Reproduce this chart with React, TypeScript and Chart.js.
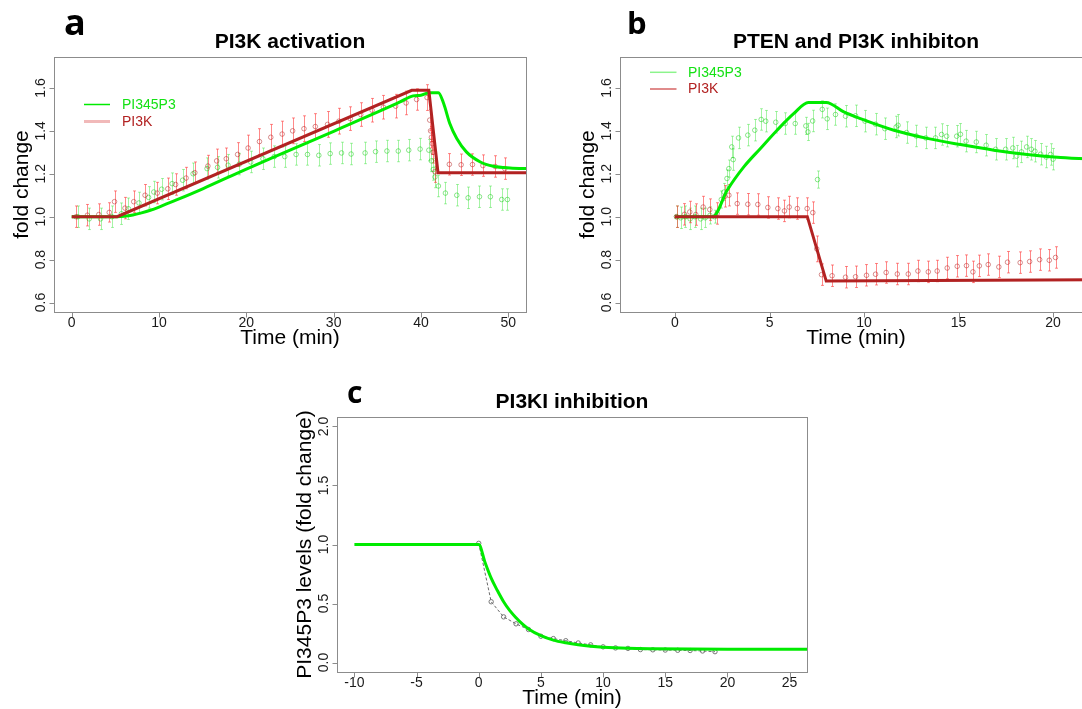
import React, { useEffect, useRef } from "react";
import { Chart, registerables } from "chart.js";

Chart.register(...registerables);

const SANS = '"Liberation Sans", Arial, Helvetica, sans-serif';
const LETTER = '"Open Sans", "DejaVu Sans", sans-serif';

const GREEN = "rgb(0,235,0)";
const DARKRED = "#b22222";

// ---------------- Panel a : PI3K activation ----------------
const A_X_TICKS = [0, 10, 20, 30, 40, 50];
const A_Y_TICKS = [0.6, 0.8, 1.0, 1.2, 1.4, 1.6];
const A_Y_LABELS = ["0.6", "0.8", "1.0", "1.2", "1.4", "1.6"];

const A_PI3K_T = [0.5, 1.8, 3.1, 4.3, 4.9, 6.1, 7.1, 8.4, 9.8, 11.0, 11.9, 13.1, 14.1, 15.6, 16.6, 17.7, 19.0, 20.2, 21.5, 22.8, 24.1, 25.3, 26.6, 27.9, 29.3, 30.6, 31.9, 33.1, 34.4, 35.7, 37.1, 38.3, 39.5, 40.7, 41.0, 41.1, 41.2, 41.3, 41.4, 41.6, 43.25, 44.6, 45.9, 47.1, 48.5, 49.6];
const A_PI3K_V = [1.0, 1.007, 1.01, 1.02, 1.07, 1.04, 1.07, 1.10, 1.11, 1.13, 1.15, 1.18, 1.205, 1.236, 1.26, 1.27, 1.29, 1.32, 1.35, 1.37, 1.385, 1.40, 1.41, 1.42, 1.43, 1.445, 1.457, 1.476, 1.496, 1.51, 1.515, 1.53, 1.546, 1.555, 1.45, 1.40, 1.37, 1.34, 1.30, 1.21, 1.244, 1.242, 1.243, 1.238, 1.234, 1.224];
const A_PI3K_E = [0.05, 0.05, 0.05, 0.045, 0.05, 0.05, 0.05, 0.05, 0.05, 0.05, 0.05, 0.05, 0.05, 0.05, 0.055, 0.05, 0.055, 0.06, 0.06, 0.06, 0.06, 0.06, 0.06, 0.06, 0.06, 0.06, 0.055, 0.055, 0.055, 0.055, 0.055, 0.055, 0.05, 0.06, 0.05, 0.05, 0.05, 0.05, 0.05, 0.05, 0.05, 0.05, 0.05, 0.05, 0.05, 0.05];

const A_PIP3_T = [0.7, 2.0, 3.3, 4.6, 5.7, 6.5, 7.7, 8.8, 9.4, 10.3, 11.5, 12.7, 13.9, 15.5, 16.7, 17.9, 19.2, 20.5, 21.9, 23.2, 24.4, 25.7, 27.0, 28.3, 29.6, 30.9, 32.0, 33.6, 34.8, 36.1, 37.4, 38.6, 39.9, 40.9, 41.2, 41.4, 41.6, 42.0, 42.8, 44.1, 45.4, 46.7, 47.95, 49.25, 49.9];
const A_PIP3_V = [1.0, 0.99, 0.99, 1.0, 1.014, 1.037, 1.064, 1.09, 1.115, 1.128, 1.154, 1.17, 1.2, 1.224, 1.23, 1.24, 1.245, 1.255, 1.27, 1.28, 1.28, 1.29, 1.29, 1.286, 1.294, 1.297, 1.292, 1.297, 1.303, 1.306, 1.306, 1.31, 1.315, 1.31, 1.26, 1.22, 1.185, 1.143, 1.11, 1.10, 1.088, 1.093, 1.093, 1.08, 1.08];
const A_PIP3_E = [0.05, 0.05, 0.05, 0.05, 0.05, 0.05, 0.05, 0.05, 0.05, 0.05, 0.05, 0.05, 0.05, 0.05, 0.05, 0.05, 0.05, 0.05, 0.05, 0.05, 0.05, 0.05, 0.05, 0.05, 0.05, 0.05, 0.05, 0.05, 0.05, 0.05, 0.05, 0.05, 0.05, 0.05, 0.05, 0.05, 0.05, 0.05, 0.05, 0.05, 0.05, 0.05, 0.05, 0.05, 0.05];

const A_PI3K_MODEL_T = [0, 5.2, 38.95, 40.9, 41.95, 52.5];
const A_PI3K_MODEL_V = [1.0, 1.0, 1.589, 1.589, 1.205, 1.205];
const A_PIP3_MODEL_T = [0, 5.2, 6, 7, 8, 9, 10, 12, 15, 20, 25, 30, 35, 37.6, 39.1, 40, 41, 42, 42.6, 43.3, 44.1, 45.2, 46.8, 48.3, 50.2, 52.5];
const A_PIP3_MODEL_V = [1.0, 1.0, 1.002, 1.008, 1.018, 1.03, 1.045, 1.078, 1.13, 1.222, 1.31, 1.398, 1.487, 1.535, 1.563, 1.566, 1.578, 1.578, 1.527, 1.434, 1.364, 1.302, 1.255, 1.235, 1.227, 1.224];

// ---------------- Panel b : PTEN and PI3K inhibiton ----------------
const B_X_TICKS = [0, 5, 10, 15, 20];
const B_Y_TICKS = [0.6, 0.8, 1.0, 1.2, 1.4, 1.6];
const B_Y_LABELS = ["0.6", "0.8", "1.0", "1.2", "1.4", "1.6"];

const B_PIP3_T = [0.08, 0.3, 0.55, 0.8, 1.05, 1.35, 1.6, 1.85, 2.1, 2.45, 2.6, 2.75, 2.85, 3.0, 3.08, 3.36, 3.85, 4.22, 4.56, 4.8, 5.33, 5.83, 6.36, 6.92, 7.03, 7.28, 7.54, 7.79, 8.05, 8.49, 9.02, 9.55, 10.05, 10.61, 11.1, 11.7, 11.8, 12.25, 12.76, 13.27, 13.78, 14.1, 14.37, 14.9, 15.1, 15.4, 15.94, 16.46, 16.96, 17.49, 17.87, 18.07, 18.33, 18.6, 18.85, 19.04, 19.34, 19.64, 19.87, 20.0];
const B_PIP3_V = [1.0, 0.995, 1.0, 0.99, 1.0, 0.99, 0.995, 1.006, 1.0, 1.08, 1.115, 1.178, 1.224, 1.325, 1.266, 1.367, 1.38, 1.403, 1.453, 1.445, 1.44, 1.434, 1.434, 1.423, 1.395, 1.446, 1.173, 1.50, 1.456, 1.476, 1.468, 1.47, 1.445, 1.431, 1.41, 1.418, 1.426, 1.392, 1.376, 1.367, 1.367, 1.383, 1.375, 1.375, 1.384, 1.352, 1.348, 1.333, 1.314, 1.314, 1.32, 1.282, 1.302, 1.325, 1.314, 1.305, 1.291, 1.278, 1.29, 1.268];
const B_PIP3_E = [0.05, 0.05, 0.05, 0.05, 0.05, 0.05, 0.045, 0.04, 0.03, 0.04, 0.04, 0.04, 0.04, 0.05, 0.05, 0.05, 0.05, 0.05, 0.05, 0.05, 0.05, 0.05, 0.05, 0.04, 0.04, 0.05, 0.04, 0.04, 0.05, 0.05, 0.05, 0.05, 0.05, 0.05, 0.05, 0.05, 0.05, 0.05, 0.05, 0.05, 0.05, 0.05, 0.05, 0.05, 0.05, 0.05, 0.05, 0.05, 0.05, 0.05, 0.05, 0.05, 0.05, 0.05, 0.05, 0.05, 0.05, 0.05, 0.05, 0.05];

const B_PI3K_T = [0.08, 0.5, 0.78, 1.1, 1.49, 1.84, 2.23, 2.64, 2.85, 3.29, 3.85, 4.38, 4.91, 5.44, 5.79, 6.04, 6.47, 6.99, 7.29, 7.5, 7.75, 8.31, 9.02, 9.55, 10.13, 10.61, 11.17, 11.76, 12.34, 12.85, 13.4, 13.87, 14.4, 14.93, 15.42, 15.76, 16.1, 16.57, 17.13, 17.59, 18.26, 18.76, 19.29, 19.8, 20.13];
const B_PI3K_V = [1.0, 1.011, 1.022, 1.01, 1.045, 1.033, 1.015, 1.095, 1.10, 1.061, 1.058, 1.057, 1.043, 1.038, 1.027, 1.045, 1.038, 1.038, 1.019, 0.85, 0.73, 0.725, 0.718, 0.72, 0.727, 0.732, 0.74, 0.733, 0.733, 0.747, 0.743, 0.747, 0.761, 0.769, 0.772, 0.743, 0.771, 0.777, 0.766, 0.788, 0.786, 0.791, 0.80, 0.797, 0.81];
const B_PI3K_E = [0.05, 0.05, 0.05, 0.05, 0.05, 0.05, 0.05, 0.05, 0.05, 0.05, 0.05, 0.05, 0.05, 0.05, 0.05, 0.05, 0.05, 0.05, 0.05, 0.06, 0.05, 0.05, 0.05, 0.05, 0.05, 0.05, 0.05, 0.05, 0.05, 0.05, 0.05, 0.05, 0.05, 0.05, 0.05, 0.05, 0.05, 0.05, 0.05, 0.05, 0.05, 0.05, 0.05, 0.05, 0.05];

const B_PI3K_MODEL_T = [0, 7.0, 8.0, 22.5];
const B_PI3K_MODEL_V = [1.0, 1.0, 0.70, 0.706];
const B_PIP3_MODEL_T = [0, 2.0, 2.76, 3.64, 4.52, 5.4, 6.29, 7.05, 8.0, 8.93, 9.81, 11.58, 13.34, 15.1, 16.87, 18.63, 20.4, 22.5];
const B_PIP3_MODEL_V = [1.0, 1.0, 1.123, 1.232, 1.318, 1.403, 1.481, 1.532, 1.532, 1.488, 1.457, 1.403, 1.365, 1.336, 1.31, 1.29, 1.276, 1.267];

// ---------------- Panel c : PI3KI inhibition ----------------
const C_X_TICKS = [-10, -5, 0, 5, 10, 15, 20, 25];
const C_Y_TICKS = [0, 0.5, 1.0, 1.5, 2.0];
const C_Y_LABELS = ["0.0", "0.5", "1.0", "1.5", "2.0"];

const C_DATA_T = [0, 1, 2, 3, 4, 5, 6, 7, 8, 9, 10, 11, 12, 13, 14, 15, 16, 17, 18, 19];
const C_DATA_V = [1.01, 0.515, 0.387, 0.328, 0.28, 0.223, 0.203, 0.185, 0.166, 0.15, 0.133, 0.124, 0.12, 0.11, 0.108, 0.106, 0.104, 0.102, 0.098, 0.092];

const C_MODEL_T = [-10, 0, 0.5, 1, 1.5, 2, 2.5, 3, 3.5, 4, 5, 6, 7, 8, 9, 10, 12, 14, 17, 20, 27];
const C_MODEL_V = [1.0, 1.0, 0.85, 0.715, 0.61, 0.515, 0.44, 0.38, 0.327, 0.285, 0.228, 0.19, 0.167, 0.15, 0.138, 0.13, 0.121, 0.117, 0.114, 0.113, 0.113];

const pts = (t: number[], v: number[]) => t.map((x, i) => ({ x, y: v[i] }));

const modelLine = (t: number[], v: number[], color: string, smooth: boolean) => ({
  data: pts(t, v),
  borderColor: color,
  borderWidth: 3,
  pointRadius: 0,
  tension: 0,
  cubicInterpolationMode: smooth ? "monotone" : "default",
  fill: false,
  clip: 0,
});

const markers = (t: number[], v: number[], color: string) => ({
  data: pts(t, v),
  showLine: false,
  pointRadius: 2.3,
  pointBorderWidth: 1,
  pointBorderColor: color,
  pointBackgroundColor: "rgba(0,0,0,0)",
  borderColor: color,
  clip: 0,
});

type ErrSet = { t: number[]; v: number[]; e: number[]; color: string };
type LegendItem = { label: string; textColor: string; lineColor: string; lineWidth: number };
type PanelCfg = {
  left: number; top: number; w: number; h: number;
  pad: { left: number; top: number; right: number; bottom: number };
  xMin: number; xMax: number; yMin: number; yMax: number;
  xTicks: number[]; yTicks: number[]; yLabels: string[];
  title: string; letter: string; letterFont: string; letterX: number; letterY: number;
  ylabel: string;
  legend?: { x1: number; x2: number; textX: number; ys: number[]; items: LegendItem[] };
  datasets: any[];
  errs: ErrSet[];
};

const PANELS: PanelCfg[] = [
  {
    left: 0, top: 0, w: 545, h: 355,
    pad: { left: 54, top: 57, right: 19, bottom: 43 },
    xMin: -2.03, xMax: 52.03, yMin: 0.556, yMax: 1.744,
    xTicks: A_X_TICKS, yTicks: A_Y_TICKS, yLabels: A_Y_LABELS,
    title: "PI3K activation", letter: "a", letterFont: "bold 36px " + LETTER, letterX: 64, letterY: 35,
    ylabel: "fold change",
    legend: {
      x1: 84, x2: 110, textX: 122, ys: [104.5, 121.5],
      items: [
        { label: "PI345P3", textColor: "rgb(20,225,20)", lineColor: GREEN, lineWidth: 1.5 },
        { label: "PI3K", textColor: DARKRED, lineColor: "rgba(225,100,100,0.45)", lineWidth: 3 },
      ],
    },
    datasets: [
      modelLine(A_PI3K_MODEL_T, A_PI3K_MODEL_V, DARKRED, false),
      modelLine(A_PIP3_MODEL_T, A_PIP3_MODEL_V, GREEN, true),
      markers(A_PI3K_T, A_PI3K_V, "rgba(178,34,34,0.5)"),
      markers(A_PIP3_T, A_PIP3_V, "rgba(0,200,0,0.45)"),
    ],
    errs: [
      { t: A_PIP3_T, v: A_PIP3_V, e: A_PIP3_E, color: "rgba(0,220,0,0.35)" },
      { t: A_PI3K_T, v: A_PI3K_V, e: A_PI3K_E, color: "rgba(255,40,40,0.55)" },
    ],
  },
  {
    left: 560, top: 0, w: 550, h: 355,
    pad: { left: 60, top: 57, right: 18, bottom: 43 },
    xMin: -2.91, xMax: 22.06, yMin: 0.556, yMax: 1.744,
    xTicks: B_X_TICKS, yTicks: B_Y_TICKS, yLabels: B_Y_LABELS,
    title: "PTEN and PI3K inhibiton", letter: "b", letterFont: "bold 31px " + LETTER, letterX: 67, letterY: 33.5,
    ylabel: "fold change",
    legend: {
      x1: 90, x2: 116.5, textX: 128, ys: [72.3, 89],
      items: [
        { label: "PI345P3", textColor: "rgb(20,225,20)", lineColor: "rgba(0,230,0,0.45)", lineWidth: 1.5 },
        { label: "PI3K", textColor: DARKRED, lineColor: "rgba(200,50,50,0.75)", lineWidth: 1.5 },
      ],
    },
    datasets: [
      modelLine(B_PI3K_MODEL_T, B_PI3K_MODEL_V, DARKRED, false),
      modelLine(B_PIP3_MODEL_T, B_PIP3_MODEL_V, GREEN, true),
      markers(B_PI3K_T, B_PI3K_V, "rgba(178,34,34,0.5)"),
      markers(B_PIP3_T, B_PIP3_V, "rgba(0,200,0,0.45)"),
    ],
    errs: [
      { t: B_PIP3_T, v: B_PIP3_V, e: B_PIP3_E, color: "rgba(0,220,0,0.35)" },
      { t: B_PI3K_T, v: B_PI3K_V, e: B_PI3K_E, color: "rgba(255,40,40,0.55)" },
    ],
  },
  {
    left: 280, top: 360, w: 560, h: 349,
    pad: { left: 57, top: 57, right: 33, bottom: 37 },
    xMin: -11.4, xMax: 26.4, yMin: -0.08, yMax: 2.08,
    xTicks: C_X_TICKS, yTicks: C_Y_TICKS, yLabels: C_Y_LABELS,
    title: "PI3KI inhibition", letter: "c", letterFont: "bold 30px " + LETTER, letterX: 67, letterY: 43,
    ylabel: "PI345P3 levels (fold change)",
    datasets: [
      modelLine(C_MODEL_T, C_MODEL_V, GREEN, true),
      {
        data: pts(C_DATA_T, C_DATA_V),
        borderColor: "#6a6a6a",
        borderWidth: 1,
        borderDash: [3, 2],
        tension: 0,
        pointRadius: 2.2,
        pointBorderWidth: 1,
        pointBorderColor: "#777",
        pointBackgroundColor: "rgba(255,255,255,0)",
        clip: 0,
      },
    ],
    errs: [],
  },
];

function makePlugin(cfg: PanelCfg) {
  return {
    id: "rstyle",
    beforeDatasetsDraw(chart: any) {
      const { ctx, chartArea: ca } = chart;
      const xs = chart.scales.x;
      const ys = chart.scales.y;
      ctx.save();
      ctx.beginPath();
      ctx.rect(ca.left, ca.top, ca.right - ca.left, ca.bottom - ca.top);
      ctx.clip();
      ctx.lineWidth = 1;
      for (const s of cfg.errs) {
        ctx.strokeStyle = s.color;
        s.t.forEach((t, i) => {
          const x = Math.round(xs.getPixelForValue(t)) + 0.5;
          const y1 = ys.getPixelForValue(s.v[i] - s.e[i]);
          const y2 = ys.getPixelForValue(s.v[i] + s.e[i]);
          ctx.beginPath();
          ctx.moveTo(x, y1);
          ctx.lineTo(x, y2);
          ctx.moveTo(x - 1.5, y1);
          ctx.lineTo(x + 1.5, y1);
          ctx.moveTo(x - 1.5, y2);
          ctx.lineTo(x + 1.5, y2);
          ctx.stroke();
        });
      }
      ctx.restore();
    },
    afterDraw(chart: any) {
      const { ctx, chartArea: ca } = chart;
      const xs = chart.scales.x;
      const ys = chart.scales.y;
      ctx.save();
      // box
      ctx.strokeStyle = "#8c8c8c";
      ctx.lineWidth = 1;
      ctx.strokeRect(Math.round(ca.left) + 0.5, Math.round(ca.top) + 0.5, Math.round(ca.right - ca.left), Math.round(ca.bottom - ca.top));
      // tick marks
      ctx.beginPath();
      const bottom = Math.round(ca.bottom) + 0.5;
      const left = Math.round(ca.left) + 0.5;
      for (const t of cfg.xTicks) {
        const x = Math.round(xs.getPixelForValue(t)) + 0.5;
        ctx.moveTo(x, bottom);
        ctx.lineTo(x, bottom + 5);
      }
      for (const v of cfg.yTicks) {
        const y = Math.round(ys.getPixelForValue(v)) + 0.5;
        ctx.moveTo(left, y);
        ctx.lineTo(left - 5, y);
      }
      ctx.stroke();
      // tick labels
      ctx.fillStyle = "#1a1a1a";
      ctx.font = "14px " + SANS;
      ctx.textAlign = "center";
      ctx.textBaseline = "alphabetic";
      for (const t of cfg.xTicks) {
        ctx.fillText(String(t), xs.getPixelForValue(t), ca.bottom + 15);
      }
      cfg.yTicks.forEach((v, i) => {
        ctx.save();
        ctx.translate(ca.left - 9, ys.getPixelForValue(v));
        ctx.rotate(-Math.PI / 2);
        ctx.fillText(cfg.yLabels[i], 0, 0);
        ctx.restore();
      });
      // title
      ctx.fillStyle = "#000";
      ctx.font = "bold 21px " + SANS;
      ctx.fillText(cfg.title, (ca.left + ca.right) / 2, 48);
      // axis labels
      ctx.font = "21px " + SANS;
      ctx.fillText("Time (min)", (ca.left + ca.right) / 2, ca.bottom + 32);
      ctx.save();
      ctx.translate(ca.left - 26, (ca.top + ca.bottom) / 2);
      ctx.rotate(-Math.PI / 2);
      ctx.fillText(cfg.ylabel, 0, 0);
      ctx.restore();
      // panel letter
      ctx.textAlign = "left";
      ctx.font = cfg.letterFont;
      ctx.fillText(cfg.letter, cfg.letterX, cfg.letterY);
      // legend
      if (cfg.legend) {
        const lg = cfg.legend;
        ctx.font = "14px " + SANS;
        ctx.textBaseline = "middle";
        lg.items.forEach((it, i) => {
          const y = lg.ys[i];
          ctx.strokeStyle = it.lineColor;
          ctx.lineWidth = it.lineWidth;
          ctx.beginPath();
          ctx.moveTo(lg.x1, y);
          ctx.lineTo(lg.x2, y);
          ctx.stroke();
          ctx.fillStyle = it.textColor;
          ctx.fillText(it.label, lg.textX, y + 0.5);
        });
      }
      ctx.restore();
    },
  };
}

function Panel({ cfg }: { cfg: PanelCfg }) {
  const ref = useRef<HTMLCanvasElement>(null);
  useEffect(() => {
    if (!ref.current) return;
    const chart = new Chart(ref.current, {
      type: "line",
      data: { datasets: cfg.datasets },
      options: {
        responsive: false,
        animation: false,
        devicePixelRatio: 1,
        events: [],
        layout: { padding: cfg.pad },
        plugins: {
          legend: { display: false },
          tooltip: { enabled: false },
          title: { display: false },
        },
        scales: {
          x: { type: "linear", min: cfg.xMin, max: cfg.xMax, display: false },
          y: { type: "linear", min: cfg.yMin, max: cfg.yMax, display: false },
        },
      },
      plugins: [makePlugin(cfg)],
    } as any);
    return () => chart.destroy();
  }, [cfg]);
  return (
    <canvas
      ref={ref}
      width={cfg.w}
      height={cfg.h}
      style={{ position: "absolute", left: cfg.left, top: cfg.top, width: cfg.w, height: cfg.h }}
    />
  );
}

export default function App() {
  return (
    <div
      style={{
        position: "fixed",
        left: 0,
        top: 0,
        width: 1082,
        height: 709,
        overflow: "hidden",
        background: "#fff",
      }}
    >
      {PANELS.map((p, i) => (
        <Panel key={i} cfg={p} />
      ))}
    </div>
  );
}
